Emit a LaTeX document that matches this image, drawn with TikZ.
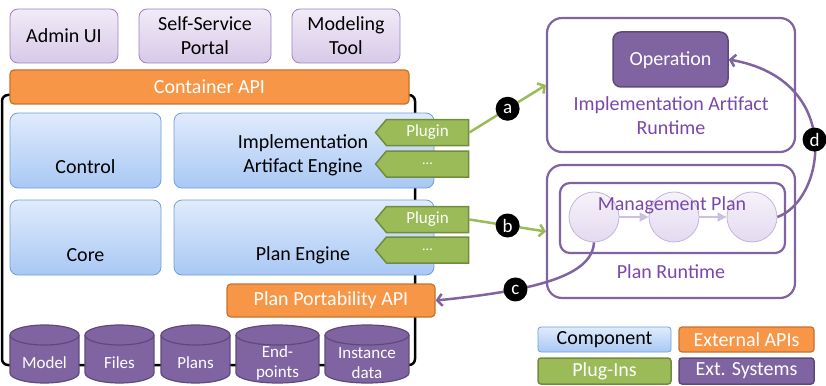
\documentclass[tikz,border=0pt]{standalone}
\usepackage{fontspec}
\setmainfont{Carlito}
\usetikzlibrary{shapes.symbols, arrows.meta}
\definecolor{lpTop}{HTML}{F1EBF7}
\definecolor{lpBot}{HTML}{D7C9E8}
\definecolor{lpLine}{HTML}{9E82C2}
\definecolor{blTop}{HTML}{E0EBFC}
\definecolor{blBot}{HTML}{A8C8F4}
\definecolor{blLine}{HTML}{6F9FDC}
\definecolor{orFill}{HTML}{F79646}
\definecolor{orLine}{HTML}{C8702A}
\definecolor{grFill}{HTML}{9BBB59}
\definecolor{grLine}{HTML}{718C3D}
\definecolor{puFill}{HTML}{8064A2}
\definecolor{puLine}{HTML}{5D4A7A}
\definecolor{puText}{HTML}{7A48AA}
\definecolor{ciTop}{HTML}{F6F2FA}
\definecolor{ciBot}{HTML}{E3DAEF}
\definecolor{ciLine}{HTML}{C5B5DC}
\definecolor{mpArrow}{HTML}{CDBFE0}
\newcommand\mycyl[4]{%
  \pgfmathsetmacro\cx{(#2+#3)/2}%
  \pgfmathsetmacro\rx{(#3-#2)/2}%
  \fill[puFill] (#2,335) rectangle (#3,373);
  \fill[puFill] (\cx,373) ellipse [x radius=\rx pt, y radius=10pt];
  \draw[cylline] (#2,335) -- (#2,373) arc[start angle=180,end angle=360,x radius=\rx pt,y radius=10pt] -- (#3,335);
  \draw[cylline, fill=puFill] (\cx,335) ellipse [x radius=\rx pt, y radius=10pt];
  \node[cyltext] (#1) at (\cx,363) {#4};
}
\begin{document}
\begin{tikzpicture}[x=1pt,y=-1pt,
  every node/.style={font=\fontsize{20}{24}\selectfont},
  client/.style={draw=lpLine, line width=0.8pt, top color=lpTop, bottom color=lpBot, rounded corners=8pt, align=center, inner sep=0pt},
  comp/.style={draw=blLine, line width=0.8pt, top color=blTop, bottom color=blBot, rounded corners=8pt, inner sep=0pt},
  api/.style={draw=orLine, line width=1.2pt, fill=orFill, rounded corners=4pt, text=white, inner sep=0pt},
  plug/.style={signal, signal to=west, signal pointer angle=100, draw=grLine, line width=1.5pt, fill=grFill, text=white, inner sep=0pt, minimum width=93pt, minimum height=26pt, font=\fontsize{17}{20}\selectfont},
  txt/.style={align=center, inner sep=0pt},
  cylline/.style={draw=puLine, line width=1.2pt},
  cyltext/.style={text=white, align=center, inner sep=0pt, font=\fontsize{17}{20}\selectfont},
  runtime/.style={draw=puFill, line width=2.2pt, fill=white, rounded corners=15pt, inner sep=0pt},
  ptxt/.style={text=puText, align=center, inner sep=0pt},
  oper/.style={draw=puLine, line width=1.5pt, fill=puFill, rounded corners=8pt, text=white, inner sep=0pt, text height=13pt, text depth=0pt},
  mpcircle/.style={circle, draw=ciLine, line width=0.8pt, top color=ciTop, bottom color=ciBot, minimum size=50pt, inner sep=0pt},
  lbl/.style={circle, fill=black, text=white, inner sep=0pt, minimum size=24pt, font=\fontsize{19}{20}\selectfont},
  garrow/.style={draw=grFill, line width=2.5pt, -{Straight Barb[length=5pt,width=12pt]}},
  parrow/.style={draw=puFill, line width=2.5pt, -{Straight Barb[length=5pt,width=12pt]}},
  mparrow/.style={draw=mpArrow, line width=1.5pt, -{Triangle[length=9pt,width=9pt]}},
  legend/.style={inner sep=0pt, rounded corners=3pt}
]
\useasboundingbox (0,0) rectangle (826,385);

% container outline
\node[draw=black, line width=2.5pt, rounded corners=6pt, minimum width=413pt, minimum height=270pt, inner sep=0pt] (container) at (208.5,230) {};

% clients
\node[client, minimum width=108pt, minimum height=54pt] (admin) at (64,36) {Admin UI};
\node[client, minimum width=132pt, minimum height=54pt] (ssp) at (205,36) {Self-Service\\Portal};
\node[client, minimum width=108pt, minimum height=54pt] (mt) at (346,36) {Modeling\\Tool};

% container API
\node[api, minimum width=399pt, minimum height=34pt] (capi) at (209.5,87) {Container API};

% components
\node[comp, minimum width=151pt, minimum height=75pt] (control) at (85.5,150.5) {};
\node[txt] (controlt) at (85.5,167) {Control};
\node[comp, minimum width=260pt, minimum height=75pt] (iae) at (304,150.5) {};
\node[txt] (iaet) at (303,155) {Implementation\\Artifact Engine};
\node[comp, minimum width=151pt, minimum height=75pt] (core) at (85.5,237.5) {};
\node[txt] (coret) at (85.5,255) {Core};
\node[comp, minimum width=260pt, minimum height=75pt] (pe) at (304,237.5) {};
\node[txt] (pet) at (303,255) {Plan Engine};

% plugins
\node[plug] (p1) at (427.5,132.5) {Plugin};
\node[plug, font=\fontsize{14}{16}\selectfont] (p2) at (427.5,164) {...};
\node[plug] (p3) at (427.5,219.5) {Plugin};
\node[plug, font=\fontsize{14}{16}\selectfont] (p4) at (427.5,250) {...};

% plan portability API
\node[api, minimum width=208pt, minimum height=33pt] (ppa) at (331,300.5) {Plan Portability API};

% data stores
\mycyl{model}{10}{79}{Model}
\mycyl{files}{85}{154}{Files}
\mycyl{plans}{161}{230}{Plans}
\mycyl{endp}{236}{319}{End-\\points}
\mycyl{inst}{325}{409}{Instance\\data}

% implementation artifact runtime
\node[runtime, minimum width=248pt, minimum height=134pt] (iar) at (671,85) {};
\node[oper, minimum width=115pt, minimum height=55pt] (op) at (670.5,59.5) {Operation};
\node[ptxt] (iart) at (671,116) {Implementation Artifact\\Runtime};

% plan runtime
\node[runtime, minimum width=248pt, minimum height=133pt] (prt) at (671,231.5) {};
\node[draw=puFill, line width=2.2pt, rounded corners=10pt, minimum width=225pt, minimum height=70pt, inner sep=0pt] (mp) at (672.5,218) {};
\node[mpcircle] (c1) at (594,217) {};
\node[mpcircle] (c2) at (674,217) {};
\node[mpcircle] (c3) at (752,217) {};
\draw[mparrow] (c1.east) -- (c2.west);
\draw[mparrow] (c2.east) -- (c3.west);
\node[ptxt] (mpt) at (672,205) {Management Plan};
\node[ptxt] (prtt) at (671,272) {Plan Runtime};

% connectors
\draw[garrow] (p1.east) -- node[lbl] {a} (iar.west);
\draw[garrow] (p3.east) -- node[lbl] {b} (prt.west);
\draw[parrow] (c1.south) .. controls (592,275) and (540,290) .. node[lbl, pos=0.7] {c} (ppa.east);
\draw[parrow] (c3.east) .. controls (825,200) and (845,80) .. node[lbl, pos=0.5] {d} (op.east);

% legend
\node[legend, draw=blLine, line width=0.8pt, top color=blTop, bottom color=blBot, minimum width=133pt, minimum height=25pt] (lcomp) at (604.5,339.5) {Component};
\node[legend, draw=orLine, line width=1.2pt, fill=orFill, text=white, minimum width=135pt, minimum height=25pt] (lext) at (746.5,339.5) {External APIs};
\node[legend, draw=grLine, line width=1.5pt, fill=grFill, text=white, minimum width=133pt, minimum height=26pt] (lplug) at (604.5,371) {Plug-Ins};
\node[legend, draw=puLine, line width=1.5pt, fill=puFill, text=white, minimum width=135pt, minimum height=26pt] (lsys) at (746.5,371) {Ext. Systems};
\end{tikzpicture}
\end{document}
